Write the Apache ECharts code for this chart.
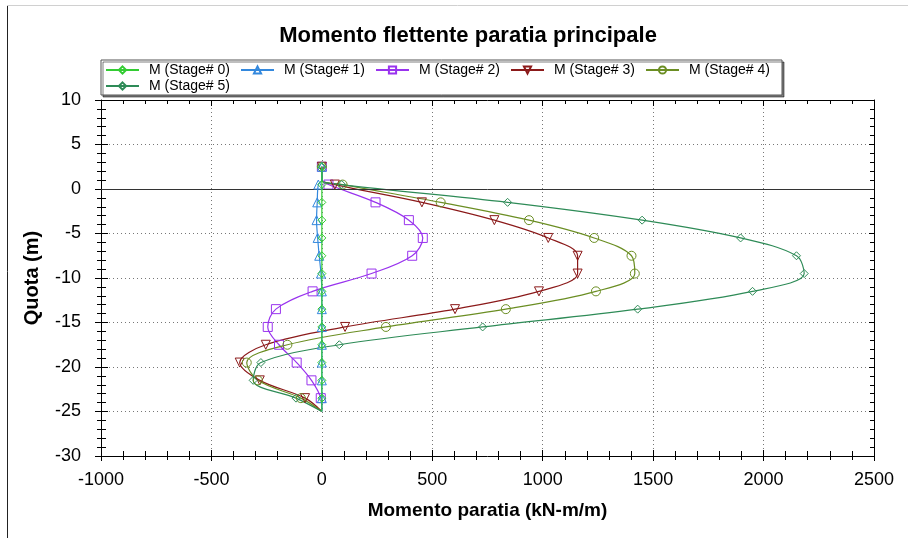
<!DOCTYPE html>
<html>
<head>
<meta charset="utf-8">
<script src="https://cdn.jsdelivr.net/npm/echarts@6/dist/echarts.min.js"></script>
<style>
html,body{margin:0;padding:0;background:#fff;}
#c{width:908px;height:538px;}
</style>
</head>
<body>
<div id="c"></div>
<script>
// depth (m) of each data point
const depths = [2.5, 1.0, 0.5, -1.5, -3.5, -5.5, -7.5, -9.5, -11.5, -13.5, -15.5, -17.5, -19.5, -21.5, -23.5, -25.0];
// whether a marker is drawn at that point
const showMarker = [true, false, true, true, true, true, true, true, true, true, true, true, true, true, true, false];
// bending moment (kN-m/m) per stage
const stage0 = [0, 0, 0, 0, 0, 0, 0, 0, 0, 0, 0, 0, 0, 0, 0, 0];
const stage1 = [0, 0, -16, -21, -24, -19, -12, -4, 0, 0, 0, 0, 0, 0, 0, 0];
const stage2 = [0, 0, 30, 243, 394, 457, 409, 225, -42, -208, -245, -194, -114, -47, -5, 0];
const stage3 = [0, 0, 59, 453, 781, 1025, 1158, 1158, 983, 603, 105, -254, -372, -281, -76, 0];
const stage4 = [0, 0, 94, 538, 938, 1233, 1402, 1417, 1241, 833, 290, -156, -340, -290, -95, 0];
const stage5 = [0, 0, 90, 841, 1450, 1896, 2149, 2184, 1950, 1430, 728, 79, -276, -311, -117, 0];
const seriesNames = ['M (Stage# 0)', 'M (Stage# 1)', 'M (Stage# 2)', 'M (Stage# 3)', 'M (Stage# 4)', 'M (Stage# 5)'];
const xTicks = { min: -1000, max: 2500, interval: 500 };
const yTicks = { min: -30, max: 10, interval: 5 };

const stages = [stage0, stage1, stage2, stage3, stage4, stage5];
const colors = ['#33cc33', '#3388dd', '#9933ee', '#8b1a1a', '#6b8e23', '#2e8b57'];
const symbols = ['diamond', 'triangle', 'rect', 'path://M0,0 L10,0 L5,10 Z', 'circle', 'diamond'];
const sizes = [8, 9, 9, 9, 9, 8];
const FONT = '"Liberation Sans", Arial, sans-serif';
const plainNum = v => String(v);

const series = stages.map((vals, i) => ({
  name: seriesNames[i],
  type: 'line',
  xAxisIndex: 0,
  yAxisIndex: 0,
  smooth: 0.35,
  showAllSymbol: true,
  symbol: symbols[i],
  symbolSize: sizes[i],
  lineStyle: { color: colors[i], width: 1.2 },
  itemStyle: { color: 'rgba(255,255,255,0)', borderColor: colors[i], borderWidth: 1 },
  emphasis: { disabled: true },
  z: 3 + (i === 0 ? 10 : i === 1 ? 9 : 0),
  data: vals.map((v, k) => showMarker[k] ? { value: [v, depths[k]] } : { value: [v, depths[k]], symbol: 'none' }),
  markLine: i === 0 ? {
    silent: true, symbol: 'none', label: { show: false },
    lineStyle: { color: '#333', width: 1, type: 'solid' },
    data: [{ yAxis: 0 }]
  } : undefined
}));

function xAx(extra) {
  return Object.assign({
    type: 'value', min: xTicks.min, max: xTicks.max, interval: xTicks.interval,
    axisLabel: { show: false }, splitLine: { show: false }
  }, extra);
}
function yAx(extra) {
  return Object.assign({
    type: 'value', min: yTicks.min, max: yTicks.max, interval: yTicks.interval,
    axisLabel: { show: false }, splitLine: { show: false }
  }, extra);
}

const chart = echarts.init(document.getElementById('c'), null, { renderer: 'canvas' });
chart.setOption({
  backgroundColor: '#fff',
  animation: false,
  title: {
    text: 'Momento flettente paratia principale',
    left: 463, top: 20, textAlign: 'center',
    textStyle: { fontFamily: FONT, fontSize: 22, fontWeight: 'bold', color: '#000' }
  },
  legend: {
    left: 101, top: 60, width: 690,
    padding: [3, 4, 2, 4],
    itemWidth: 33, itemHeight: 9, itemGap: 2,
    borderColor: '#555', borderWidth: 1,
    backgroundColor: '#fff',
    shadowColor: 'rgba(0,0,0,0.5)', shadowOffsetX: 2, shadowOffsetY: 2, shadowBlur: 0,
    textStyle: { fontFamily: FONT, fontSize: 14, color: '#000', width: 89, lineHeight: 14, padding: [0, 0, 0, 5] },
    data: seriesNames
  },
  grid: { left: 101, top: 100, width: 773, height: 356 },
  xAxis: [
    xAx({
      position: 'bottom',
      name: 'Momento paratia (kN-m/m)', nameLocation: 'middle', nameGap: 45,
      nameTextStyle: { fontFamily: FONT, fontSize: 19, fontWeight: 'bold', color: '#000' },
      axisLine: { show: true, onZero: false, lineStyle: { color: '#000', width: 1 } },
      axisTick: { show: true, inside: false, length: 5, lineStyle: { color: '#000' } },
      minorTick: { show: true, splitNumber: 5, length: 4, lineStyle: { color: '#000' } },
      axisLabel: { show: true, fontFamily: FONT, fontSize: 18, color: '#000', margin: 15, formatter: plainNum },
      splitLine: { show: true, lineStyle: { color: '#777', type: [1, 3], width: 1 } }
    }),
    xAx({
      position: 'bottom',
      axisLine: { show: false, onZero: false },
      axisTick: { show: true, inside: true, length: 6, lineStyle: { color: '#000' } },
      minorTick: { show: true, splitNumber: 5, length: 5, lineStyle: { color: '#000' } }
    }),
    xAx({
      position: 'top',
      axisLine: { show: true, onZero: false, lineStyle: { color: '#000', width: 1 } },
      axisTick: { show: true, inside: true, length: 6, lineStyle: { color: '#000' } },
      minorTick: { show: true, splitNumber: 5, length: 4, lineStyle: { color: '#000' } }
    })
  ],
  yAxis: [
    yAx({
      position: 'left',
      name: 'Quota (m)', nameLocation: 'middle', nameGap: 59, nameRotate: 90,
      nameTextStyle: { fontFamily: FONT, fontSize: 20, fontWeight: 'bold', color: '#000' },
      axisLine: { show: true, onZero: false, lineStyle: { color: '#000', width: 1 } },
      axisTick: { show: true, inside: false, length: 6, lineStyle: { color: '#000' } },
      minorTick: { show: true, splitNumber: 5, length: 4, lineStyle: { color: '#000' } },
      axisLabel: { show: true, fontFamily: FONT, fontSize: 18, color: '#000', margin: 20, formatter: plainNum },
      splitLine: { show: true, lineStyle: { color: '#777', type: [1, 3], width: 1 } }
    }),
    yAx({
      position: 'left',
      axisLine: { show: false, onZero: false },
      axisTick: { show: true, inside: true, length: 7, lineStyle: { color: '#000' } },
      minorTick: { show: true, splitNumber: 5, length: 5, lineStyle: { color: '#000' } }
    }),
    yAx({
      position: 'right',
      axisLine: { show: true, onZero: false, lineStyle: { color: '#000', width: 1 } },
      axisTick: { show: true, inside: true, length: 5, lineStyle: { color: '#000' } },
      minorTick: { show: true, splitNumber: 5, length: 4, lineStyle: { color: '#000' } }
    })
  ],
  graphic: [
    { type: 'line', silent: true, shape: { x1: 7.5, y1: 5, x2: 7.5, y2: 538 }, style: { stroke: '#222', lineWidth: 1 } },
    { type: 'line', silent: true, shape: { x1: 7, y1: 5.5, x2: 908, y2: 5.5 }, style: { stroke: '#d0d0d0', lineWidth: 1 } }
  ],
  series: series
});
</script>
</body>
</html>
